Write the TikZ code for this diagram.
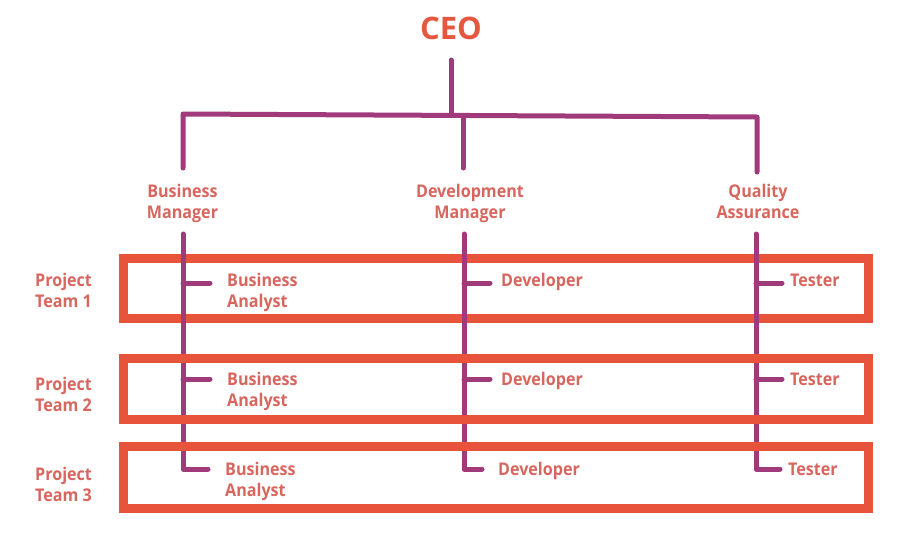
\documentclass[tikz,border=0pt]{standalone}
\usepackage{fontspec}
\setmainfont{Open Sans}
\newfontfamily\lblfont[FakeStretch=0.92]{Open Sans}
\definecolor{ceoC}{HTML}{E5573F}
\definecolor{lblC}{HTML}{D8665E}
\definecolor{boxC}{HTML}{E8533C}
\definecolor{lineC}{HTML}{A03A7B}
\begin{document}
\begin{tikzpicture}[x=1pt,y=-1pt,
  lbl/.style={font=\lblfont\bfseries\fontsize{17.5}{21}\selectfont, text=lblC, inner sep=0pt, align=center},
  lbll/.style={lbl, align=left},
  teambox/.style={draw=boxC, line width=9pt, inner sep=0pt},
  org/.style={draw=lineC, line width=5pt, line cap=round, line join=round}]
\useasboundingbox (0,0) rectangle (901,533);
\fill[white] (0,0) rectangle (901,533);

% CEO
\node[font=\bfseries\fontsize{31}{36}\selectfont, text=ceoC, inner sep=0pt, anchor=base] (ceo) at (451,39) {CEO};

% managers
\node[lbl] (bm) at (182.5,203.5) {Business\\Manager};
\node[lbl] (dm) at (470,203.5) {Development\\Manager};
\node[lbl] (qa) at (758,201.5) {Quality\\Assurance};

% team labels
\node[lbll, anchor=west] (pt1) at (35,290) {Project\\Team 1};
\node[lbll, anchor=west] (pt2) at (35,394.5) {Project\\Team 2};
\node[lbll, anchor=west] (pt3) at (35,484.5) {Project\\Team 3};

% team members
\node[lbll, anchor=west] (ba1) at (227,292) {Business\\Analyst};
\node[lbll, anchor=west] (ba2) at (227,391) {Business\\Analyst};
\node[lbll, anchor=west] (ba3) at (225,481) {Business\\Analyst};
\node[lbl, anchor=base west] (dev1) at (501,286) {Developer};
\node[lbl, anchor=base west] (dev2) at (501,385) {Developer};
\node[lbl, anchor=base west] (dev3) at (498,475) {Developer};
\node[lbl, anchor=base west] (te1) at (790,286) {Tester};
\node[lbl, anchor=base west] (te2) at (790,385) {Tester};
\node[lbl, anchor=base west] (te3) at (788,475) {Tester};

% team 1 box (below the lines)
\node[teambox, minimum width=745pt, minimum height=60pt] (box1) at (495.5,288.5) {};

% coordinates of the tree
\coordinate (ceoFoot) at (451,60);
\coordinate (hub) at (451,115);
\coordinate (bmCorner) at (183,114);
\coordinate (qaCorner) at (757,117);
\coordinate (dmJoin) at (463,115.5);
\coordinate (bmEnd) at (183,168);
\coordinate (dmEnd) at (463,168);
\coordinate (qaEnd) at (757,172);

\coordinate (bmLow) at (183,234);
\coordinate (dmLow) at (464,234);
\coordinate (qaLow) at (756,234);
\coordinate (bmCol1) at (183,283);
\coordinate (bmCol2) at (183,379);
\coordinate (bmCol3) at (183,469);
\coordinate (dmCol1) at (464,283);
\coordinate (dmCol2) at (464,379);
\coordinate (dmCol3) at (464,469);
\coordinate (qaCol1) at (756,283);
\coordinate (qaCol2) at (756,379);
\coordinate (qaCol3) at (756,469);

% tree
\draw[org] (ceoFoot) -- (hub);
\draw[org] (bmEnd) -- (bmCorner) -- (qaCorner) -- (qaEnd);
\draw[org] (dmJoin) -- (dmEnd);

% columns
\draw[org] (bmLow) -- (bmCol3) -- ([xshift=-17pt]ba3.west |- bmCol3);
\draw[org] (bmCol1) -- ([xshift=-17pt]ba1.west |- bmCol1);
\draw[org] (bmCol2) -- ([xshift=-17pt]ba2.west |- bmCol2);
\draw[org] (dmLow) -- (dmCol3) -- ([xshift=-16pt]dev3.west |- dmCol3);
\draw[org] (dmCol1) -- ([xshift=-11pt]dev1.west |- dmCol1);
\draw[org] (dmCol2) -- ([xshift=-11pt]dev2.west |- dmCol2);
\draw[org] (qaLow) -- (qaCol3) -- ([xshift=-8pt]te3.west |- qaCol3);
\draw[org] (qaCol1) -- ([xshift=-8pt]te1.west |- qaCol1);
\draw[org] (qaCol2) -- ([xshift=-8pt]te2.west |- qaCol2);

% team 2 and 3 boxes (over the lines)
\node[teambox, minimum width=745pt, minimum height=61pt] (box2) at (495.5,389) {};
\node[teambox, minimum width=745pt, minimum height=61.5pt] (box3) at (495.5,477.25) {};
\end{tikzpicture}
\end{document}
